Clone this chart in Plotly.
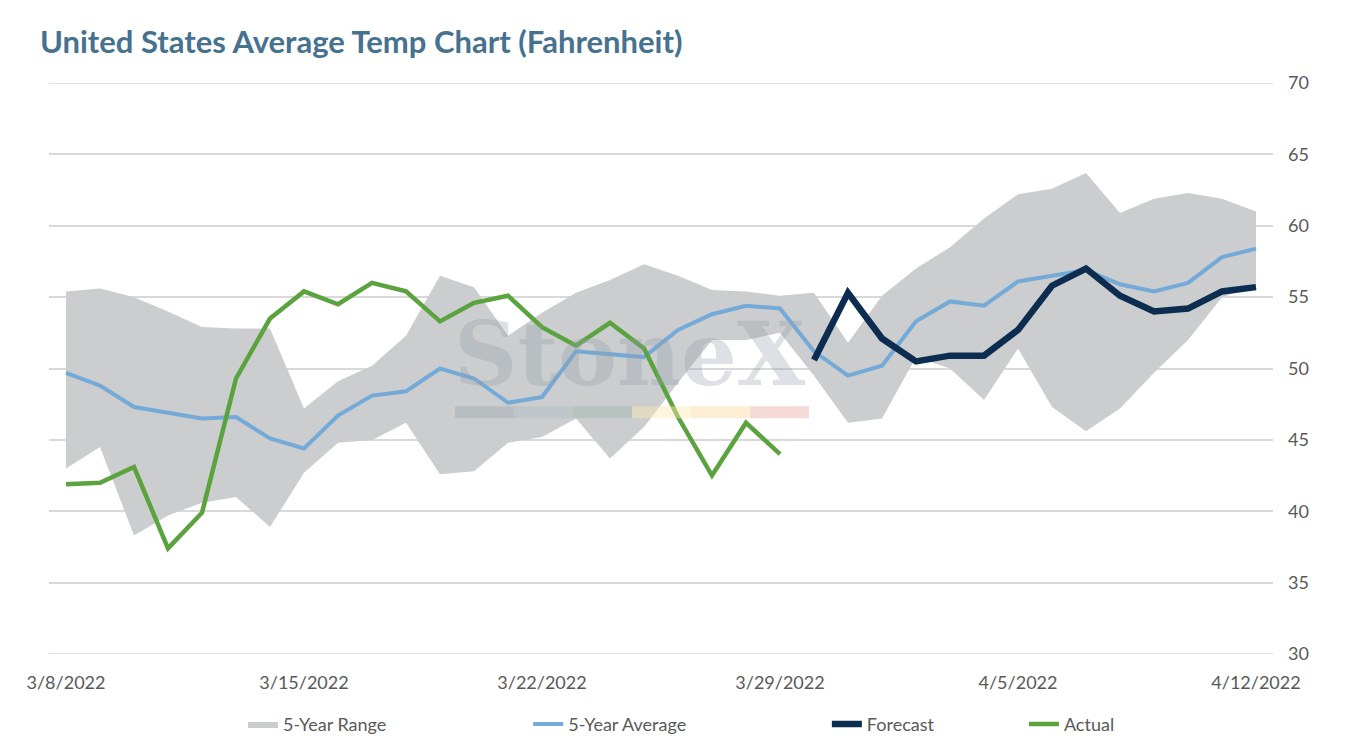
import plotly.graph_objects as go

dates = [
    "2022-03-08", "2022-03-09", "2022-03-10", "2022-03-11", "2022-03-12", "2022-03-13",
    "2022-03-14", "2022-03-15", "2022-03-16", "2022-03-17", "2022-03-18", "2022-03-19",
    "2022-03-20", "2022-03-21", "2022-03-22", "2022-03-23", "2022-03-24", "2022-03-25",
    "2022-03-26", "2022-03-27", "2022-03-28", "2022-03-29", "2022-03-30", "2022-03-31",
    "2022-04-01", "2022-04-02", "2022-04-03", "2022-04-04", "2022-04-05", "2022-04-06",
    "2022-04-07", "2022-04-08", "2022-04-09", "2022-04-10", "2022-04-11", "2022-04-12",
]

range_low = [43.0, 44.5, 38.3, 39.7, 40.6, 41.0, 38.9, 42.7, 44.8, 45.0, 46.2, 42.6,
             42.8, 44.8, 45.2, 46.5, 43.7, 45.9, 49.0, 52.0, 52.0, 52.5, 49.5, 46.2,
             46.5, 50.8, 50.0, 47.8, 51.4, 47.3, 45.6, 47.2, 49.7, 52.0, 55.0, 55.8]
range_high = [55.4, 55.6, 55.0, 54.0, 52.9, 52.8, 52.8, 47.2, 49.1, 50.2, 52.3, 56.5,
              55.7, 52.3, 53.9, 55.3, 56.2, 57.3, 56.5, 55.5, 55.4, 55.1, 55.3, 51.8,
              55.1, 57.0, 58.5, 60.5, 62.2, 62.6, 63.7, 60.9, 61.9, 62.3, 61.9, 61.0]
avg_5yr = [49.7, 48.8, 47.3, 46.9, 46.5, 46.6, 45.1, 44.4, 46.7, 48.1, 48.4, 50.0,
           49.3, 47.6, 48.0, 51.2, 51.0, 50.8, 52.7, 53.8, 54.4, 54.2, 51.2, 49.5,
           50.2, 53.3, 54.7, 54.4, 56.1, 56.5, 56.9, 55.9, 55.4, 56.0, 57.8, 58.4]

actual_dates = dates[:22]
actual = [41.9, 42.0, 43.1, 37.4, 39.9, 49.3, 53.5, 55.4, 54.5, 56.0, 55.4, 53.3,
          54.6, 55.1, 52.9, 51.6, 53.2, 51.4, 46.6, 42.5, 46.2, 44.0]

forecast_dates = dates[22:]
forecast = [50.6, 55.3, 52.1, 50.5, 50.9, 50.9, 52.7, 55.8, 57.0, 55.1, 54.0, 54.2,
            55.4, 55.7]

tick_dates = ["2022-03-08", "2022-03-15", "2022-03-22", "2022-03-29", "2022-04-05", "2022-04-12"]
tick_text = ["3/8/2022", "3/15/2022", "3/22/2022", "3/29/2022", "4/5/2022", "4/12/2022"]
y_ticks = [30, 35, 40, 45, 50, 55, 60, 65, 70]

FONT = "Lato"
GREY_TXT = "#595959"
GRID = "#D9D9D9"

fig = go.Figure()

fig.add_trace(go.Scatter(x=dates, y=range_low, mode="lines", line=dict(width=0, color="#CBCDCE"),
                         showlegend=False, hoverinfo="skip"))
fig.add_trace(go.Scatter(x=dates, y=range_high, mode="lines", line=dict(width=0, color="#CBCDCE"),
                         fill="tonexty", fillcolor="#CBCDCE", name="5-Year Range", legend="legend"))
fig.add_trace(go.Scatter(x=dates, y=avg_5yr, mode="lines", name="5-Year Average",
                         line=dict(color="#74AAD8", width=4), legend="legend2"))
fig.add_trace(go.Scatter(x=forecast_dates, y=forecast, mode="lines", name="Forecast",
                         line=dict(color="#0C2D50", width=6.5), legend="legend3"))
fig.add_trace(go.Scatter(x=actual_dates, y=actual, mode="lines", name="Actual",
                         line=dict(color="#5BA33F", width=4.5), legend="legend4"))

# edge gridlines (plotly skips grid at the range limits)
for yv in (y_ticks[0], y_ticks[-1]):
    fig.add_shape(type="line", xref="paper", yref="y", x0=0, x1=1, y0=yv, y1=yv,
                  line=dict(color=GRID, width=1.5), layer="below")

# faint StoneX watermark
fig.add_annotation(x=0.475, y=0.525, xref="paper", yref="paper", text="<b>StoneX</b>",
                   showarrow=False, yanchor="middle",
                   font=dict(family="DejaVu Serif", size=88, color="rgba(150,160,170,0.32)"))
wm_colors = ["rgba(150,160,170,0.35)", "rgba(170,185,195,0.35)", "rgba(150,175,160,0.35)",
             "rgba(250,235,180,0.45)", "rgba(250,215,160,0.45)", "rgba(235,170,170,0.45)"]
for i, c in enumerate(wm_colors):
    fig.add_shape(type="rect", xref="paper", yref="paper",
                  x0=(406 + i * 59) / 1224, x1=(406 + (i + 1) * 59) / 1224,
                  y0=0.413, y1=0.434, fillcolor=c, line_width=0, layer="above")


def leg(x):
    return dict(orientation="h", x=x, xanchor="left", y=-0.123, yanchor="middle",
                font=dict(family=FONT, size=18, color=GREY_TXT), bgcolor="rgba(0,0,0,0)")


fig.update_layout(
    width=1351, height=750,
    paper_bgcolor="white", plot_bgcolor="white",
    margin=dict(l=41, r=86, t=75, b=104, autoexpand=False),
    title=dict(text="<b>United States Average Temp Chart (Fahrenheit)</b>",
               x=32 / 1351, xanchor="left", y=1 - 34 / 750, yanchor="middle",
               font=dict(family=FONT, size=31, color="#46718F")),
    font=dict(family=FONT, color=GREY_TXT, size=18),
    legend=leg(0.1585), legend2=leg(0.3915), legend3=leg(0.6355), legend4=leg(0.7965),
    showlegend=True,
)

fig.update_xaxes(range=["2022-03-07 12:00", "2022-04-12 12:00"], showgrid=False,
                 zeroline=False, showline=False, tickvals=tick_dates, ticktext=tick_text,
                 tickfont=dict(size=18, color=GREY_TXT), ticks="outside", ticklen=12,
                 tickcolor="rgba(0,0,0,0)")
fig.update_yaxes(range=[30, 70], side="right", tickvals=y_ticks,
                 showgrid=True, gridcolor=GRID, gridwidth=1.5, zeroline=False, showline=False,
                 tickfont=dict(size=18, color=GREY_TXT), ticklabelstandoff=14)

fig.write_html("out.html")
